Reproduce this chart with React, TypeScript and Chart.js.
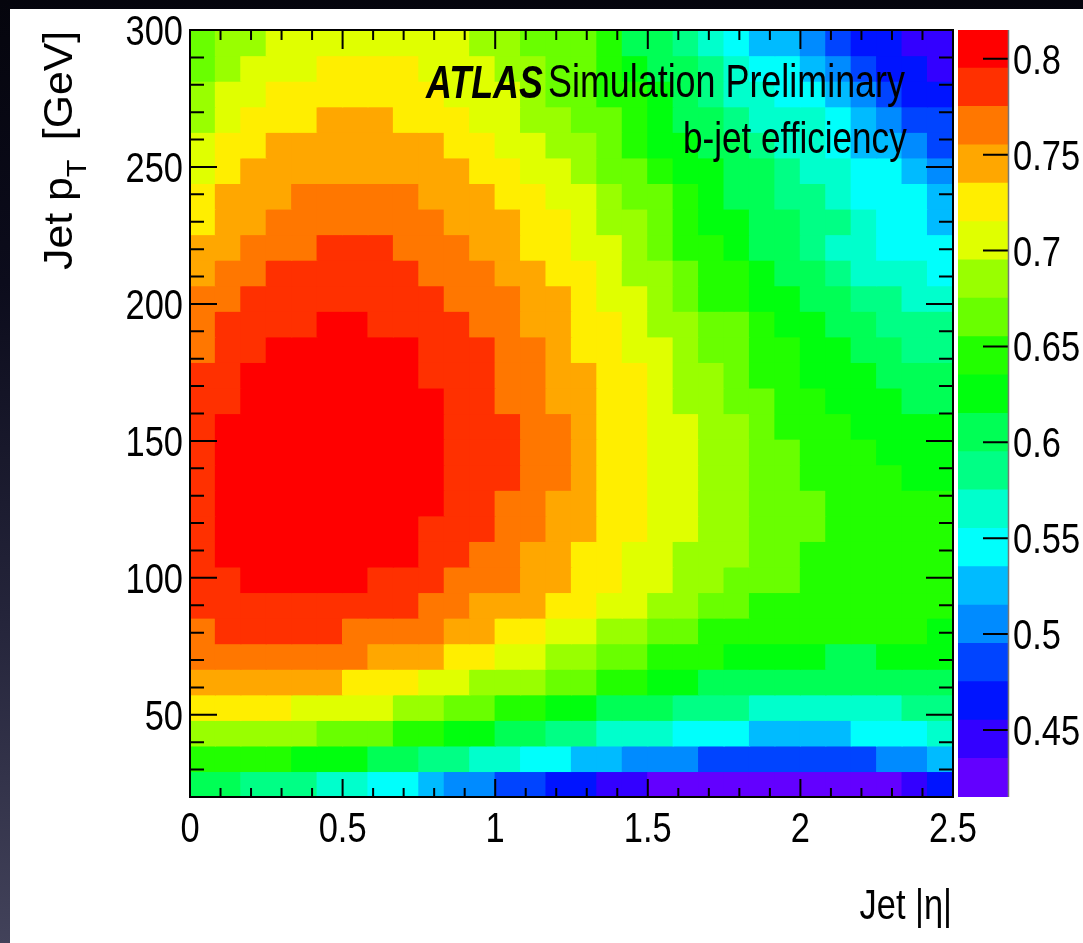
import React, { useEffect, useRef } from "react";
import { Chart, registerables } from "chart.js";

Chart.register(...registerables);

// ---------------- data ----------------
const ETA_MIN = 0;
const ETA_MAX = 2.5;
const PT_MIN = 20;
const PT_MAX = 300;
const N_ETA_BINS = 30;
const N_PT_BINS = 30;

const xTickValues = [0, 0.5, 1, 1.5, 2, 2.5];
const xTickLabels = ["0", "0.5", "1", "1.5", "2", "2.5"];
const yTickValues = [50, 100, 150, 200, 250, 300];
const yTickLabels = ["50", "100", "150", "200", "250", "300"];
const zTickValues = [0.45, 0.5, 0.55, 0.6, 0.65, 0.7, 0.75, 0.8];
const zTickLabels = ["0.45", "0.5", "0.55", "0.6", "0.65", "0.7", "0.75", "0.8"];

const Z_MIN = 0.415;
const Z_MAX = 0.815;
const paletteColors = [
  "#6300ff", "#3300ff", "#0014ff", "#0044ff", "#008bff",
  "#00bbff", "#00fffc", "#00ffcc", "#00ff85", "#00ff55",
  "#00ff0e", "#22ff00", "#69ff00", "#99ff00", "#e0ff00",
  "#ffee00", "#ffa700", "#ff7700", "#ff3000", "#ff0000",
];

// b-jet efficiency; row 0 = highest pT bin (290 GeV) ... row 29 = lowest (25 GeV); columns = |eta| bins 0..29
const efficiency = [
  [.665,.685,.685,.705,.705,.705,.705,.705,.705,.705,.705,.685,.685,.665,.665,.665,.645,.605,.605,.585,.565,.545,.525,.525,.505,.485,.465,.465,.445,.445],
  [.665,.685,.705,.705,.705,.725,.725,.725,.725,.705,.705,.705,.685,.685,.665,.665,.645,.625,.605,.605,.585,.565,.545,.545,.525,.505,.485,.465,.465,.445],
  [.685,.705,.705,.725,.725,.725,.725,.725,.725,.725,.705,.705,.705,.685,.665,.665,.645,.645,.625,.605,.585,.565,.565,.545,.545,.525,.505,.485,.465,.465],
  [.685,.705,.725,.725,.725,.745,.745,.745,.725,.725,.725,.705,.705,.685,.685,.665,.665,.645,.625,.605,.605,.585,.565,.565,.565,.545,.525,.505,.485,.485],
  [.705,.725,.725,.745,.745,.745,.745,.745,.745,.745,.725,.725,.705,.705,.685,.685,.665,.645,.625,.625,.605,.605,.585,.565,.565,.545,.525,.525,.505,.485],
  [.705,.725,.745,.745,.745,.745,.745,.745,.745,.745,.745,.725,.725,.705,.705,.685,.665,.665,.645,.625,.625,.605,.605,.585,.565,.565,.545,.545,.525,.505],
  [.725,.745,.745,.745,.765,.765,.765,.765,.765,.745,.745,.745,.725,.725,.705,.705,.685,.665,.665,.645,.625,.605,.605,.585,.585,.565,.545,.545,.545,.525],
  [.725,.745,.745,.765,.765,.765,.765,.765,.765,.765,.745,.745,.745,.725,.725,.705,.685,.685,.665,.645,.625,.625,.605,.605,.585,.585,.565,.545,.545,.525],
  [.745,.745,.765,.765,.765,.785,.785,.785,.765,.765,.765,.745,.745,.725,.725,.705,.705,.685,.665,.645,.645,.625,.605,.605,.585,.565,.565,.545,.545,.545],
  [.745,.765,.765,.785,.785,.785,.785,.785,.785,.765,.765,.765,.745,.745,.725,.725,.705,.685,.685,.665,.645,.645,.625,.605,.605,.585,.565,.565,.565,.545],
  [.765,.765,.785,.785,.785,.785,.785,.785,.785,.785,.765,.765,.765,.745,.745,.725,.705,.705,.685,.665,.645,.645,.625,.625,.605,.605,.585,.585,.565,.565],
  [.765,.785,.785,.785,.785,.805,.805,.785,.785,.785,.785,.765,.765,.745,.745,.725,.725,.705,.685,.685,.665,.665,.645,.625,.625,.605,.605,.585,.585,.585],
  [.765,.785,.785,.805,.805,.805,.805,.805,.805,.785,.785,.785,.765,.765,.745,.725,.725,.705,.705,.685,.665,.665,.645,.645,.625,.625,.605,.605,.585,.585],
  [.785,.785,.805,.805,.805,.805,.805,.805,.805,.785,.785,.785,.765,.765,.745,.745,.725,.725,.705,.685,.685,.665,.645,.645,.625,.625,.625,.605,.605,.605],
  [.785,.785,.805,.805,.805,.805,.805,.805,.805,.805,.785,.785,.765,.765,.745,.745,.725,.725,.705,.685,.685,.665,.665,.645,.645,.625,.625,.625,.605,.605],
  [.785,.805,.805,.805,.805,.805,.805,.805,.805,.805,.785,.785,.785,.765,.765,.745,.725,.725,.705,.705,.685,.685,.665,.645,.645,.645,.625,.625,.625,.625],
  [.785,.805,.805,.805,.805,.805,.805,.805,.805,.805,.785,.785,.785,.765,.765,.745,.725,.725,.705,.705,.685,.685,.665,.665,.645,.645,.645,.625,.625,.625],
  [.785,.805,.805,.805,.805,.805,.805,.805,.805,.805,.785,.785,.785,.765,.765,.745,.725,.725,.705,.705,.685,.685,.665,.665,.645,.645,.645,.645,.625,.625],
  [.785,.805,.805,.805,.805,.805,.805,.805,.805,.805,.785,.785,.765,.765,.745,.745,.725,.725,.705,.705,.685,.685,.665,.665,.665,.645,.645,.645,.645,.645],
  [.785,.805,.805,.805,.805,.805,.805,.805,.805,.785,.785,.785,.765,.765,.745,.745,.725,.725,.705,.705,.685,.685,.665,.665,.665,.645,.645,.645,.645,.645],
  [.785,.805,.805,.805,.805,.805,.805,.805,.805,.785,.785,.765,.765,.745,.745,.725,.725,.705,.705,.685,.685,.685,.665,.665,.645,.645,.645,.645,.645,.645],
  [.785,.785,.805,.805,.805,.805,.805,.785,.785,.785,.765,.765,.765,.745,.745,.725,.725,.705,.705,.685,.685,.665,.665,.665,.645,.645,.645,.645,.645,.645],
  [.785,.785,.785,.785,.785,.785,.785,.785,.785,.765,.765,.745,.745,.745,.725,.725,.705,.705,.685,.685,.665,.665,.645,.645,.645,.645,.645,.645,.645,.645],
  [.765,.785,.785,.785,.785,.785,.765,.765,.765,.765,.745,.745,.725,.725,.705,.705,.685,.685,.665,.665,.645,.645,.645,.645,.645,.645,.645,.645,.645,.625],
  [.765,.765,.765,.765,.765,.765,.765,.745,.745,.745,.725,.725,.705,.705,.685,.685,.665,.665,.645,.645,.645,.625,.625,.625,.625,.605,.605,.625,.625,.625],
  [.745,.745,.745,.745,.745,.745,.725,.725,.725,.705,.705,.685,.685,.685,.665,.665,.645,.645,.625,.625,.605,.605,.605,.605,.605,.605,.605,.605,.605,.605],
  [.725,.725,.725,.725,.705,.705,.705,.705,.685,.685,.665,.665,.645,.645,.625,.625,.605,.605,.605,.585,.585,.585,.565,.565,.565,.565,.565,.565,.585,.585],
  [.685,.685,.685,.685,.685,.665,.665,.665,.645,.645,.625,.625,.605,.605,.585,.585,.565,.565,.565,.545,.545,.545,.525,.525,.525,.525,.545,.545,.545,.565],
  [.645,.645,.645,.645,.625,.625,.625,.605,.605,.585,.585,.565,.565,.545,.545,.525,.525,.505,.505,.505,.485,.485,.485,.485,.485,.485,.485,.505,.505,.525],
  [.605,.605,.585,.585,.585,.565,.565,.545,.545,.525,.505,.505,.485,.485,.465,.465,.445,.445,.425,.425,.425,.425,.425,.425,.425,.425,.425,.425,.445,.465],
];

// ---------------- helpers ----------------
const TEXT_FAMILY = '"Liberation Sans", Arial, sans-serif';
const LABEL_FONT = `42px ${TEXT_FAMILY}`;
const LABEL_SX = 0.82;

function drawStretched(ctx: CanvasRenderingContext2D, text: string, x: number, y: number, font: string, align: CanvasTextAlign, sx: number) {
  ctx.save();
  ctx.translate(x, y);
  ctx.scale(sx, 1);
  ctx.font = font;
  ctx.textAlign = align;
  ctx.textBaseline = "alphabetic";
  ctx.fillStyle = "#000";
  ctx.fillText(text, 0, 0);
  ctx.restore();
}

export default function App() {
  const mainRef = useRef<HTMLCanvasElement>(null);
  const barRef = useRef<HTMLCanvasElement>(null);

  useEffect(() => {
    document.body.style.margin = "0";
    const etaW = (ETA_MAX - ETA_MIN) / N_ETA_BINS;
    const ptH = (PT_MAX - PT_MIN) / N_PT_BINS;
    const nLevels = paletteColors.length;
    const zStep = (Z_MAX - Z_MIN) / nLevels;
    const colorOf = (v: number) => {
      let k = Math.floor((v - Z_MIN) / zStep + 1e-9);
      if (k < 0) k = 0;
      if (k > nLevels - 1) k = nLevels - 1;
      return paletteColors[k];
    };

    const datasets = efficiency.map((row, i) => {
      const hi = PT_MAX - i * ptH;
      const lo = PT_MAX - (i + 1) * ptH;
      return {
        data: row.map((_v, j) => ({ x: ETA_MIN + (j + 0.5) * etaW, y: [lo, hi] })),
        backgroundColor: row.map(colorOf),
        borderWidth: 0,
        grouped: false,
        barPercentage: 1,
        categoryPercentage: 1,
        inflateAmount: 0.6,
      };
    });

    const rootStyle = {
      id: "rootStyle",
      afterDatasetsDraw(chart: any) {
        const { ctx, chartArea: a, scales } = chart;
        const xs = scales.x, ys = scales.y;
        ctx.save();
        ctx.strokeStyle = "#000";
        ctx.lineWidth = 2;
        ctx.beginPath();
        for (let v = PT_MIN + 10; v < PT_MAX; v += 10) {
          const y = ys.getPixelForValue(v);
          const len = v % 50 === 0 ? 27 : 14;
          ctx.moveTo(a.left, y); ctx.lineTo(a.left + len, y);
          ctx.moveTo(a.right, y); ctx.lineTo(a.right - len, y);
        }
        for (let i = 1; i < 25; i++) {
          const x = xs.getPixelForValue(i / 10);
          const major = i % 5 === 0;
          ctx.moveTo(x, a.bottom); ctx.lineTo(x, a.bottom - (major ? 18 : 9));
          ctx.moveTo(x, a.top); ctx.lineTo(x, a.top + (major ? 19 : 10));
        }
        ctx.stroke();
        ctx.strokeRect(a.left, a.top, a.right - a.left, a.bottom - a.top);
        ctx.restore();
      },
      afterDraw(chart: any) {
        const ctx: CanvasRenderingContext2D = chart.ctx;
        const { chartArea: a, scales } = chart;
        // tick labels (placed with the library's scales)
        yTickValues.forEach((v, i) => {
          const y = scales.y.getPixelForValue(v);
          drawStretched(ctx, yTickLabels[i], a.left - 7, y + 15, LABEL_FONT, "right", LABEL_SX);
        });
        xTickValues.forEach((v, i) => {
          const x = scales.x.getPixelForValue(v);
          drawStretched(ctx, xTickLabels[i], x, a.bottom + 45, LABEL_FONT, "center", LABEL_SX);
        });

        drawStretched(ctx, "ATLAS", 426, 98, `italic bold 46px ${TEXT_FAMILY}`, "left", 0.78);
        drawStretched(ctx, "Simulation Preliminary", 548, 97, `46px ${TEXT_FAMILY}`, "left", 0.78);
        drawStretched(ctx, "b-jet efficiency", 683, 153, `45px ${TEXT_FAMILY}`, "left", 0.78);
        drawStretched(ctx, "Jet |η|", 952, 919, `43px ${TEXT_FAMILY}`, "right", 0.8);

        // y-axis title (rotated)
        ctx.save();
        ctx.translate(72, 270);
        ctx.rotate(-Math.PI / 2);
        ctx.scale(1.07, 1);
        ctx.fillStyle = "#000";
        ctx.textAlign = "left";
        ctx.textBaseline = "alphabetic";
        ctx.font = `40px ${TEXT_FAMILY}`;
        let x = 0;
        ctx.fillText("Jet p", x, 0);
        x += ctx.measureText("Jet p").width;
        ctx.font = `27px ${TEXT_FAMILY}`;
        ctx.fillText("T", x, 14);
        x += ctx.measureText("T").width + 7;
        ctx.font = `40px ${TEXT_FAMILY}`;
        ctx.fillText(" [GeV]", x, 0);
        ctx.restore();
      },
    };

    const mainChart = new Chart(mainRef.current as HTMLCanvasElement, {
      type: "bar",
      data: { datasets: datasets as any },
      options: {
        animation: false,
        responsive: false,
        devicePixelRatio: 1,
        events: [],
        layout: { padding: { left: 10, top: 30, right: 130, bottom: 0 } },
        plugins: { legend: { display: false }, tooltip: { enabled: false } },
        scales: {
          x: {
            type: "linear",
            min: ETA_MIN,
            max: ETA_MAX,
            offset: false,
            grid: { display: false, drawTicks: false },
            border: { display: false },
            ticks: { display: false },
            afterBuildTicks: (s: any) => { s.ticks = xTickValues.map((v) => ({ value: v })); },
            afterFit: (s: any) => { s.height = 146; },
          },
          y: {
            type: "linear",
            min: PT_MIN,
            max: PT_MAX,
            grid: { display: false, drawTicks: false },
            border: { display: false },
            ticks: { display: false },
            afterBuildTicks: (s: any) => { s.ticks = yTickValues.map((v) => ({ value: v })); },
            afterFit: (s: any) => { s.width = 180; },
          },
        },
      } as any,
      plugins: [rootStyle],
    });

    // ----- colour bar -----
    const barSets = paletteColors.map((c, k) => ({
      data: [[Z_MIN + k * zStep, Z_MIN + (k + 1) * zStep]],
      backgroundColor: c,
      borderWidth: 0,
      grouped: false,
      barPercentage: 1,
      categoryPercentage: 1,
      inflateAmount: 0.6,
    }));

    const barStyle = {
      id: "barStyle",
      afterDatasetsDraw(chart: any) {
        const { ctx, chartArea: a, scales } = chart;
        ctx.save();
        ctx.strokeStyle = "#000";
        ctx.lineWidth = 2;
        ctx.beginPath();
        zTickValues.forEach((v) => {
          const y = scales.y.getPixelForValue(v);
          ctx.moveTo(a.right, y);
          ctx.lineTo(a.right - 25, y);
        });
        ctx.stroke();
        ctx.strokeStyle = "#777";
        ctx.lineWidth = 1.5;
        ctx.beginPath();
        ctx.moveTo(a.right + 0.5, a.top);
        ctx.lineTo(a.right + 0.5, a.bottom);
        ctx.stroke();
        ctx.restore();
        zTickValues.forEach((v, i) => {
          const y = scales.y.getPixelForValue(v);
          drawStretched(ctx, zTickLabels[i], a.right + 5, y + 15, LABEL_FONT, "left", LABEL_SX);
        });
      },
    };

    const barChart = new Chart(barRef.current as HTMLCanvasElement, {
      type: "bar",
      data: { labels: [""], datasets: barSets as any },
      options: {
        animation: false,
        responsive: false,
        devicePixelRatio: 1,
        events: [],
        layout: { padding: { left: 958, top: 30, right: 0, bottom: 146 } },
        plugins: { legend: { display: false }, tooltip: { enabled: false } },
        scales: {
          x: { display: false },
          y: {
            type: "linear",
            position: "right",
            min: Z_MIN,
            max: Z_MAX,
            grid: { display: false, drawTicks: false },
            border: { display: false },
            ticks: { display: false },
            afterBuildTicks: (s: any) => { s.ticks = zTickValues.map((v) => ({ value: v })); },
            afterFit: (s: any) => { s.width = 75; },
          },
        },
      } as any,
      plugins: [barStyle],
    });

    return () => {
      mainChart.destroy();
      barChart.destroy();
    };
  }, []);

  return (
    <div
      style={{
        position: "fixed",
        left: 0,
        top: 0,
        width: 1083,
        height: 943,
        overflow: "hidden",
        background: "linear-gradient(180deg, #05050d 0%, #0c0c1c 30%, #24243a 65%, #42425a 100%)",
      }}
    >
      <div style={{ position: "absolute", left: 10, top: 9, right: 0, bottom: 0, background: "#fff" }} />
      <canvas ref={mainRef} width={1083} height={943} style={{ position: "absolute", left: 0, top: 0 }} />
      <canvas ref={barRef} width={1083} height={943} style={{ position: "absolute", left: 0, top: 0 }} />
    </div>
  );
}
